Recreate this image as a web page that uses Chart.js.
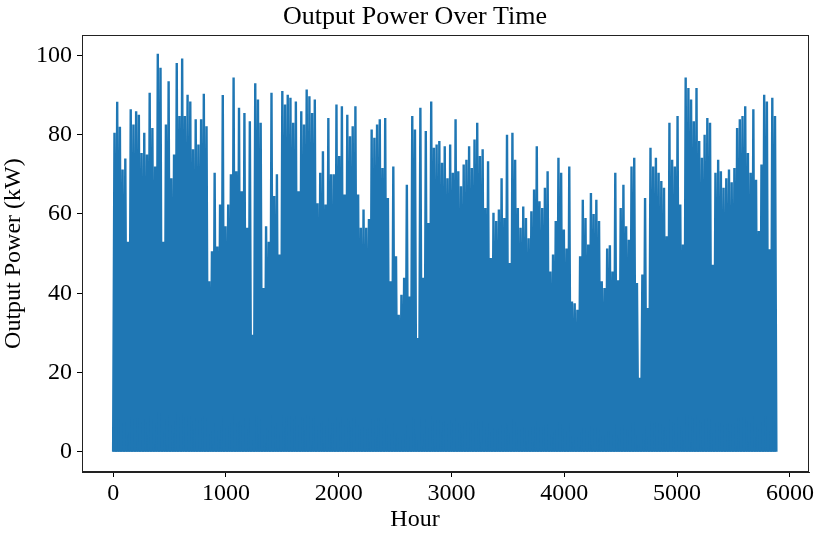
<!DOCTYPE html>
<html>
<head>
<meta charset="utf-8">
<script src="https://cdn.jsdelivr.net/npm/chart.js@4/dist/chart.umd.min.js"></script>
<style>
  html, body { margin: 0; padding: 0; background: #ffffff; }
  canvas { display: block; }
</style>
</head>
<body>
<canvas id="chart" width="816" height="533"></canvas>
<script>
// ---- Text ----
const chartTitle = "Output Power Over Time";
const xAxisTitle = "Hour";
const yAxisTitle = "Output Power (kW)";

// ---- Tick labels ----
const xTickValues = [0, 1000, 2000, 3000, 4000, 5000, 6000];
const yTickValues = [0, 20, 40, 60, 80, 100];

// ---- Series: daily peak output (kW), one value per day ----
// (power drops to 0 kW every night; the peak is reached around midday)
const hoursPerDay = 24;
const dailyPeakKW = [
  80.5, 88.3, 82, 71.2, 74, 53, 86.4, 82.6, 85.9, 85, 75.4, 80.5, 75, 90.6, 81.7, 72, 100.4, 96.9, 53, 82.6,
  93.5, 69, 75, 98.1, 84.7, 99.2, 84.7, 90.1, 88.4, 76.3, 83.9, 77.5, 83.9, 90.3, 82.1, 43, 50.6, 70.4, 51.8, 62.4,
  90, 56.9, 62.4, 70, 94.4, 70.8, 86.8, 65.7, 85.5, 56.5, 83.4, 29.5, 93, 88.9, 83, 41.3, 56.9, 53, 90.6, 64.5,
  70, 49.8, 91, 87.6, 90.1, 89.3, 83, 88.4, 65.7, 85.9, 82.6, 91.4, 89.7, 85.5, 88.9, 62.7, 70.4, 75.8, 62.4, 84.2, 70,
  70, 87.6, 74.6, 87.2, 64.9, 85, 79.6, 82.1, 87.2, 64.9, 56.5, 61.1, 56.5, 58.7, 81.3, 79.2, 82.6, 83.9, 71.6, 84.2,
  64, 43, 72, 49.3, 34.6, 39.6, 43.9, 67.4, 39.2, 84.7, 81.3, 28.7, 86.8, 43.9, 80.9, 57.7, 88.4, 76.7, 77.5, 78.4,
  72.9, 77.1, 69, 77.5, 70.4, 83.9, 70.8, 67, 72.5, 73.7, 77.1, 71.6, 78.8, 83, 74.6, 76.3, 61.5, 73.3, 48.9, 60.3,
  58.2, 61.1, 69, 59, 80, 47.6, 80.5, 73.7, 61.5, 56.5, 61.9, 59, 53.9, 60.7, 66.2, 77.1, 63.2, 61.5, 66.6, 70.8, 45.5,
  49.8, 58.2, 74.2, 70.4, 56.1, 51.3, 72, 37.9, 37.5, 35.8, 49.3, 63.6, 59, 52.3, 65.3, 60, 63.6, 58.2, 43, 41.3,
  51.3, 52.1, 45.5, 70.4, 43.3, 61.5, 67.4, 56.9, 53.5, 72, 74.2, 42.6, 18.7, 44.7, 64, 36.3, 76.7, 72, 74.2, 70.4,
  68.3, 66.6, 54.4, 83, 73.7, 72, 84.7, 62.4, 52.3, 94.4, 91.8, 88.9, 83.4, 91.8, 78.4, 74.2, 80, 84.2, 83, 47.2,
  70.4, 73.7, 70.8, 66.6, 69, 71.2, 68, 71.6, 81.7, 83.9, 84.7, 87.2, 75.4, 70.4, 86.4, 68.6, 55.7, 72.5, 90.1, 88.4,
  51.1, 89.3, 84.7
];

// Build the hourly line: night at 0 kW, midday at the day's peak.
const hourlyPoints = [];
dailyPeakKW.forEach((peak, day) => {
  hourlyPoints.push({ x: day * hoursPerDay, y: 0 });
  hourlyPoints.push({ x: day * hoursPerDay + hoursPerDay / 2, y: peak });
});
hourlyPoints.push({ x: dailyPeakKW.length * hoursPerDay, y: 0 });

const serif = "'Liberation Serif', 'Times New Roman', serif";
const textCenterX = 415;   // title and x-axis label are centred on the figure, not on the axes

const frameAndLabels = {
  id: 'frameAndLabels',
  afterLayout(chart) {
    const t = chart.titleBlock;
    if (t) { t.left = textCenterX - 380; t.right = textCenterX + 380; }
  },
  afterDraw(chart) {
    const { ctx, chartArea: a } = chart;
    ctx.save();
    ctx.strokeStyle = '#222';
    ctx.lineWidth = 1;
    ctx.strokeRect(Math.round(a.left) + 0.5, Math.round(a.top) + 0.5,
                   Math.round(a.right - a.left) - 1, Math.round(a.bottom - a.top) - 1);
    ctx.fillStyle = '#000';
    ctx.font = '24px ' + serif;
    ctx.textAlign = 'center';
    ctx.textBaseline = 'middle';
    ctx.fillText(xAxisTitle, textCenterX, chart.height - 13);
    ctx.restore();
  }
};

new Chart(document.getElementById('chart'), {
  type: 'line',
  data: {
    datasets: [{
      label: 'Output Power (kW)',
      data: hourlyPoints,
      borderColor: '#1f77b4',
      backgroundColor: '#1f77b4',
      borderWidth: 2.4,
      borderJoinStyle: 'miter',
      pointRadius: 0,
      tension: 0,
      fill: 'origin'
    }]
  },
  options: {
    responsive: false,
    animation: false,
    events: [],
    layout: { padding: { left: 0, right: 4, top: 0, bottom: 0 } },
    plugins: {
      legend: { display: false },
      tooltip: { enabled: false },
      filler: { propagate: false },
      title: {
        display: true,
        text: chartTitle,
        color: '#000',
        font: { family: serif, size: 26, weight: 'normal', lineHeight: 1.2 },
        padding: { top: 2, bottom: 2 }
      }
    },
    scales: {
      x: {
        type: 'linear',
        min: -276,
        max: 6170,
        afterBuildTicks: s => { s.ticks = xTickValues.map(v => ({ value: v })); },
        afterFit: s => { s.height = 61; },
        grid: { drawOnChartArea: false, drawTicks: true, tickLength: 5, tickColor: '#000', tickWidth: 1 },
        border: { display: true, color: '#222', width: 1 },
        ticks: {
          color: '#000', font: { family: serif, size: 24 }, padding: 2,
          maxRotation: 0, autoSkip: false, callback: v => String(v)
        },
        title: { display: false, text: xAxisTitle }
      },
      y: {
        type: 'linear',
        min: -5.1,
        max: 105.1,
        afterBuildTicks: s => { s.ticks = yTickValues.map(v => ({ value: v })); },
        afterFit: s => { s.width = 82; },
        grid: { drawOnChartArea: false, drawTicks: true, tickLength: 5, tickColor: '#000', tickWidth: 1 },
        border: { display: true, color: '#222', width: 1 },
        ticks: { color: '#000', font: { family: serif, size: 24 }, padding: 5, callback: v => String(v) },
        title: {
          display: true, text: yAxisTitle, color: '#000',
          font: { family: serif, size: 24, lineHeight: 1 }, padding: { top: 2, bottom: 0 }
        }
      }
    }
  },
  plugins: [frameAndLabels]
});
</script>
</body>
</html>
